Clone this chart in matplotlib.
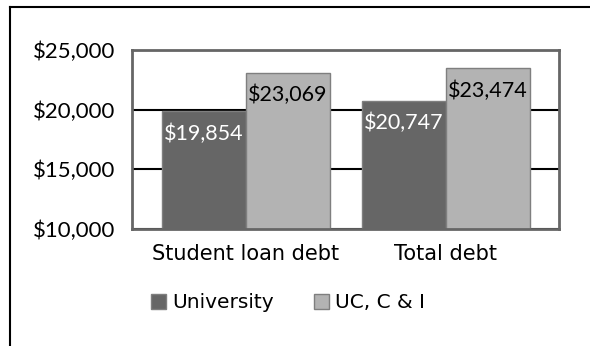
import matplotlib
matplotlib.use("Agg")
import numpy as np
from matplotlib import pyplot as plt
from matplotlib.lines import Line2D
from matplotlib.patches import Patch
from matplotlib.ticker import FuncFormatter

categories = ["Student loan debt", "Total debt"]
seriesNames = ["University", "UC, C & I"]
university = [19854, 20747]
ucci = [23069, 23474]
yTicks = [10000, 15000, 20000, 25000]

darkGray = "#666666"
lightGray = "#b3b3b3"
edgeGray = "#7f7f7f"

figure = plt.figure(figsize=(5.9, 3.46), dpi=100)
ax = figure.add_axes([132 / 590, 1 - 229 / 346, 427 / 590, 179 / 346])

x = np.arange(len(categories))
barWidth = 0.42
barsUni = ax.bar(x - barWidth / 2, university, barWidth, color=darkGray,
                 edgecolor=edgeGray, linewidth=1, zorder=3, label=seriesNames[0])
barsUc = ax.bar(x + barWidth / 2, ucci, barWidth, color=lightGray,
                edgecolor=edgeGray, linewidth=1, zorder=3, label=seriesNames[1])

ax.set_ylim(10000, 25000)
ax.set_xlim(-0.57, 1.565)
ax.set_yticks(yTicks)
ax.yaxis.set_major_formatter(FuncFormatter(lambda v, p: "${:,.0f}".format(v)))
ax.set_xticks(x)
ax.set_xticklabels(categories, fontsize=15, family="DejaVu Sans")
ax.tick_params(axis="both", length=0)
ax.tick_params(axis="x", pad=11)
ax.tick_params(axis="y", pad=12)
for lbl in ax.get_yticklabels():
    lbl.set_fontsize(16)
    lbl.set_family("Lato")
ax.yaxis.grid(True, color="black", linewidth=1.5, zorder=0)
for side in ax.spines.values():
    side.set_color("#666666")
    side.set_linewidth(2)
    side.set_zorder(4)

# value labels inside the top of each bar
for bars, values, colour in [(barsUni, university, "white"), (barsUc, ucci, "black")]:
    for bar, v in zip(bars, values):
        ax.annotate("${:,}".format(v), (bar.get_x() + bar.get_width() / 2, v),
                    xytext=(0, -16), textcoords="offset points",
                    ha="center", va="center", color=colour, fontsize=15.5,
                    family="Lato", zorder=5)

handles = [Patch(facecolor=darkGray, edgecolor=edgeGray),
           Patch(facecolor=lightGray, edgecolor=edgeGray)]
figure.legend(handles, seriesNames, loc="center left", bbox_to_anchor=(133 / 590, 1 - 303 / 346),
              ncol=2, frameon=False, prop={"family": "DejaVu Sans", "size": 14.5},
              handlelength=0.75, handleheight=0.75, handletextpad=0.3, columnspacing=2.0)

# outer frame: top and left edges
figure.add_artist(Line2D([10 / 590, 1], [1 - 7 / 346, 1 - 7 / 346], color="black", linewidth=1.5,
                         transform=figure.transFigure))
figure.add_artist(Line2D([10 / 590, 10 / 590], [0, 1 - 7 / 346], color="black", linewidth=1.5,
                         transform=figure.transFigure))

plt.savefig("out.png", dpi=100)
